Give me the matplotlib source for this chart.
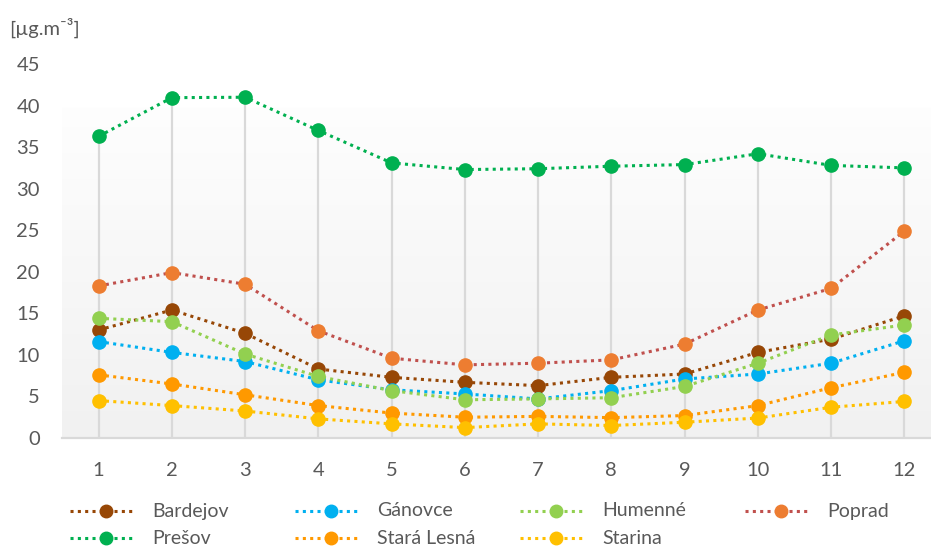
"""Monthly mean concentrations at seven stations, drawn as dotted line series."""

import matplotlib

matplotlib.use("Agg")
import matplotlib.pyplot as plt
import numpy as np
from matplotlib.lines import Line2D

plt.rcParams["font.family"] = ["Lato", "DejaVu Sans"]

months = np.arange(1, 13)

bardejov = [13.0, 15.4, 12.6, 8.3, 7.3, 6.7, 6.3, 7.3, 7.7, 10.3, 11.9, 14.7]
ganovce = [11.6, 10.3, 9.2, 7.0, 5.8, 5.3, 4.7, 5.7, 7.1, 7.7, 9.0, 11.7]
humenne = [14.4, 14.0, 10.1, 7.4, 5.7, 4.6, 4.7, 4.85, 6.2, 9.0, 12.4, 13.6]
poprad = [18.3, 19.9, 18.5, 12.9, 9.6, 8.8, 9.0, 9.4, 11.3, 15.4, 18.0, 24.9]
presov = [36.3, 40.95, 41.0, 37.0, 33.1, 32.3, 32.4, 32.7, 32.9, 34.2, 32.8, 32.5]
stara_lesna = [7.6, 6.5, 5.2, 3.9, 3.0, 2.5, 2.6, 2.45, 2.7, 3.9, 6.05, 7.9]
starina = [4.5, 3.9, 3.25, 2.3, 1.7, 1.25, 1.7, 1.5, 1.9, 2.4, 3.7, 4.4]

station_names = ["Bardejov", "Gánovce", "Humenné", "Poprad", "Prešov", "Stará Lesná", "Starina"]
series = [bardejov, ganovce, humenne, poprad, presov, stara_lesna, starina]
line_colors = ["#974706", "#00B0F0", "#92D050", "#C0504D", "#00B050", "#FF9900", "#FFC000"]
marker_colors = ["#974706", "#00B0F0", "#92D050", "#ED7D31", "#00B050", "#FF9900", "#FFC000"]

text_color = "#595959"
grid_color = "#D9D9D9"
dotted = (0, (1.0, 1.4))

W, H = 931, 547
fig = plt.figure(figsize=(W / 100, H / 100), dpi=100)
ax = fig.add_axes([62 / W, (H - 438) / H, (941 - 62) / W, (438 - 64) / H])
ax.set_xlim(0.5, 12.5)
ax.set_ylim(0, 45)

# plot-area fill: white at the top, fading to light grey at the axis
rows = np.linspace(45, 0, 450)
level = np.where(rows > 39.7, 1.0, 0.995 - (39.7 - rows) / 39.7 * 0.05)
shade = np.repeat(level[:, None, None], 3, axis=2)
ax.imshow(shade, extent=[0.5, 12.5, 0, 45], aspect="auto", zorder=0,
          interpolation="bilinear")

# drop lines from the highest series down to the category axis
top = np.max(np.array(series), axis=0)
ax.vlines(months, 0, top, color=grid_color, lw=1.6, zorder=1)

for values, lc, mc in zip(series, line_colors, marker_colors):
    ax.plot(months, values, color=lc, lw=2.2, linestyle=dotted,
            dash_capstyle="butt", zorder=2)
    ax.plot(months, values, linestyle="none", marker="o", ms=9.5,
            markerfacecolor=mc, markeredgecolor=mc, zorder=3)

for side in ["top", "right", "left"]:
    ax.spines[side].set_visible(False)
ax.spines["bottom"].set_color(grid_color)
ax.spines["bottom"].set_linewidth(1.6)
ax.spines["bottom"].set_zorder(1.5)

ax.set_xticks(months)
ax.set_yticks(np.arange(0, 46, 5))
ax.tick_params(axis="both", length=0, labelsize=14.5, labelcolor=text_color)
ax.tick_params(axis="x", pad=17)
ax.tick_params(axis="y", pad=16)

fig.text(9 / W, 1 - 28 / H, "[µg.m⁻³]", fontsize=14.5, color=text_color,
         va="center", ha="left")

# legend laid out as a 4 x 2 grid with fixed column width
col_x = [70, 295, 520, 745]
row_y = [511, 538]
for i, (name, lc, mc) in enumerate(zip(station_names, line_colors, marker_colors)):
    x0 = col_x[i % 4]
    y0 = row_y[i // 4]
    yf = 1 - y0 / H
    fig.add_artist(Line2D([x0 / W, (x0 + 65) / W], [yf, yf], color=lc, lw=2.2,
                          linestyle=dotted, dash_capstyle="butt"))
    fig.add_artist(Line2D([(x0 + 36) / W], [yf], linestyle="none", marker="o",
                          ms=9, markerfacecolor=mc, markeredgecolor=mc))
    fig.text((x0 + 82) / W, yf, name, fontsize=14, color=text_color,
             va="center", ha="left")

fig.savefig("out.png", dpi=100)
